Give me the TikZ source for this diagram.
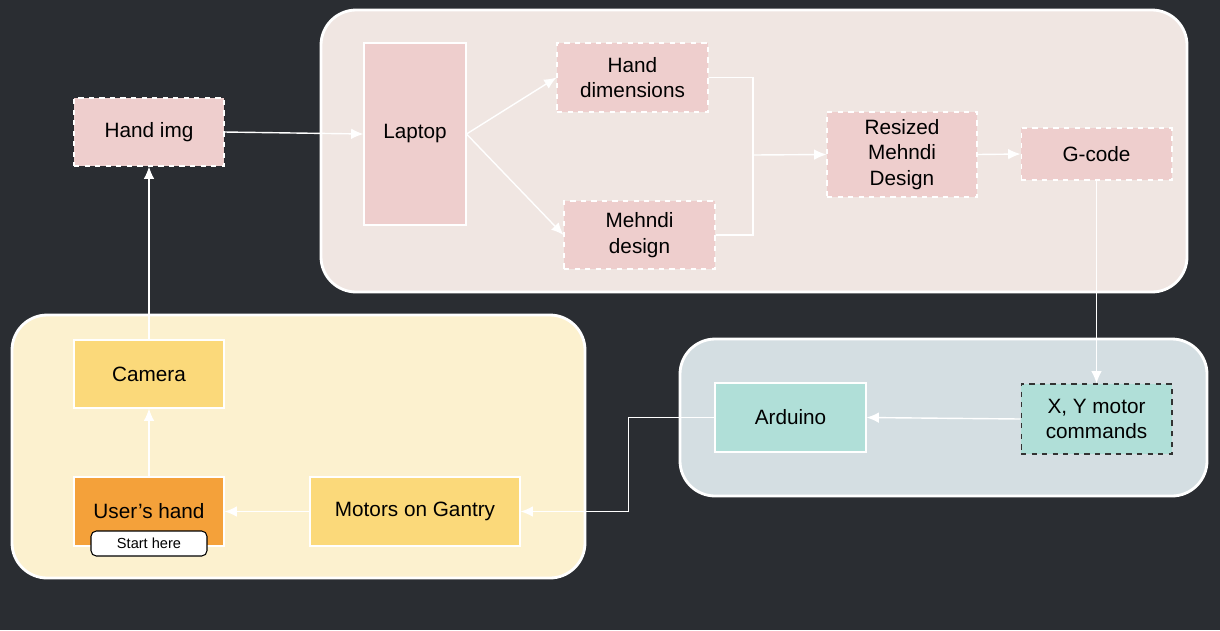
\documentclass[tikz,border=0pt]{standalone}
\usepackage{fontspec}
\setmainfont{Liberation Sans}
\usepackage{tikz}
\usetikzlibrary{arrows.meta}
\definecolor{bgdark}{HTML}{2A2D32}
\definecolor{pinkpanel}{HTML}{F0E6E2}
\definecolor{pinkbox}{HTML}{EECECD}
\definecolor{yellowpanel}{HTML}{FCF1CF}
\definecolor{yellowbox}{HTML}{FBD97A}
\definecolor{orangebox}{HTML}{F4A13A}
\definecolor{bluepanel}{HTML}{D4DEE2}
\definecolor{tealbox}{HTML}{B0DFD8}

\tikzset{
  panel/.style={draw=white, line width=1.6pt, rounded corners=20pt},
  blockbase/.style={rectangle, align=center, inner sep=0pt, font=\fontsize{11.8}{14.4}\selectfont, line width=0.6pt},
  pinkdash/.style={blockbase, fill=pinkbox, draw=white, dashed},
  pinksolid/.style={blockbase, fill=pinkbox, draw=white},
  yellowblock/.style={blockbase, fill=yellowbox, draw=white},
  flow/.style={draw=white, line width=0.8pt, -{Latex[length=7pt,width=6pt]}},
  plainline/.style={draw=white, line width=0.8pt}
}

\begin{document}
\begin{tikzpicture}[x=0.02cm, y=-0.02cm]
  % background
  \fill[bgdark] (0,0) rectangle (1220,630);
  \useasboundingbox (0,0) rectangle (1220,630);
  % panels
  \draw[panel, fill=pinkpanel]   (321,10)  rectangle (1187,292);
  \draw[panel, fill=yellowpanel] (12,315)  rectangle (585,578);
  \draw[panel, fill=bluepanel]   (680,339) rectangle (1207,496);
  % image side
  \node[pinkdash, minimum width=3cm, minimum height=1.36cm]   (handimg) at (149,132)   {Hand img};
  \node[pinksolid, minimum width=2.04cm, minimum height=3.64cm] (laptop) at (415,134)  {Laptop};
  \node[pinkdash, minimum width=3.02cm, minimum height=1.38cm] (handdim) at (632.5,77.5) {Hand\\dimensions};
  \node[pinkdash, minimum width=3.02cm, minimum height=1.36cm] (mehndi) at (639.5,235) {Mehndi\\design};
  \node[pinkdash, minimum width=3cm, minimum height=1.7cm]     (resized) at (902,154.5) {Resized\\Mehndi\\Design};
  \node[pinkdash, minimum width=3.02cm, minimum height=1.04cm] (gcode) at (1096.5,154) {G-code};
  % controller side
  \node[blockbase, fill=tealbox, draw=black!80, dashed, minimum width=3.02cm, minimum height=1.4cm] (xycmd) at (1096.5,419) {X, Y motor\\commands};
  \node[blockbase, fill=tealbox, draw=white, minimum width=3.02cm, minimum height=1.38cm] (arduino) at (790.5,417.5) {Arduino};
  % hardware side
  \node[yellowblock, minimum width=3cm, minimum height=1.36cm]   (camera) at (149,374)   {Camera};
  \node[blockbase, fill=orangebox, draw=white, minimum width=3cm, minimum height=1.38cm] (userhand) at (149,511.5) {User’s hand};
  \node[yellowblock, minimum width=4.2cm, minimum height=1.38cm] (motors) at (415,511.5) {Motors on Gantry};
  \node[draw=black, fill=white, rounded corners=3pt, line width=0.6pt, minimum width=2.32cm, minimum height=0.5cm, inner sep=0pt, font=\fontsize{8.3}{10}\selectfont] (start) at (149,543.5) {Start here};
  % connectors
  \coordinate (merge) at (753,155);
  \draw[flow] (handimg.east) -- (laptop.west);
  \draw[flow] (laptop.east) -- (handdim.west);
  \draw[flow] (laptop.east) -- (mehndi.west);
  \draw[plainline] (handdim.east) -| (merge);
  \draw[plainline] (mehndi.east) -| (merge);
  \draw[flow] (merge) -- (resized.west);
  \draw[flow] (resized.east) -- (gcode.west);
  \draw[flow] (gcode.south) -- (xycmd.north);
  \draw[flow] (xycmd.west) -- (arduino.east);
  \draw[flow] (arduino.west) -- ++(-86,0) |- (motors.east);
  \draw[flow] (motors.west) -- (userhand.east);
  \draw[flow] (userhand.north) -- (camera.south);
  \draw[flow] (camera.north) -- (handimg.south);
\end{tikzpicture}
\end{document}
